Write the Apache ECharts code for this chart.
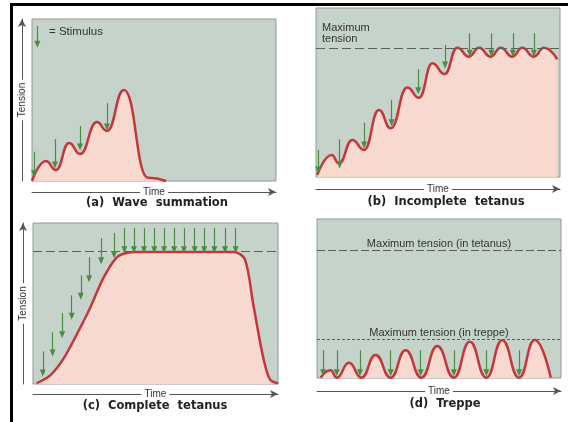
<!DOCTYPE html>
<html>
<head>
<meta charset="utf-8">
<script src="https://cdn.jsdelivr.net/npm/echarts@6/dist/echarts.min.js"></script>
<style>html,body{margin:0;padding:0;background:#fff;}#c{width:568px;height:422px;}</style>
</head>
<body>
<div id="c"></div>
<script>
// ---- Data (x = time 0..100, y = tension 0..100) ----
const waveCurve = [[0,0],[5.7,12.3],[9.8,6.8],[15.2,23.5],[19.7,16.7],[26.6,36.4],[30.7,30.9],[37.7,56.2],[47.5,2],[55,0]];
const waveStimX = [0.8, 9.4, 19.7, 30.7];
const waveStimTop = [18.1, 25.9, 34, 48.1];
const waveStimTip = [4.7, 9.9, 21, 33.3];
const legendStim = [2.2, 95.7, 84.4]; // x, top, tip

const incompleteCurve = [[0.5,1.2],[6.4,13],[9.4,8.1],[14.9,21.9],[19.7,16],[25.8,39.6],[30.6,28.8],[37.4,53],[42.2,46.9],[47.7,67.3],[52.7,60.9],[57.9,76.5],[62.7,71.2],[66.8,76.5],[71.6,71.2],[75.7,76.5],[80.5,71.2],[84.5,76.5],[89.3,71.2],[93.4,76.5],[98.9,69.6]];
const incompleteStimX = [0.9, 9.7, 19.7, 31, 41.9, 52.9, 63, 71.9, 80.7, 89.3];
const incompleteStimTop = [16, 22.3, 32.1, 45.6, 63.7, 78.1, 85, 85, 85, 85];
const incompleteStimTip = [4.1, 7.1, 18.9, 32.1, 51.1, 66.3, 73.2, 73.2, 73.2, 73.2];
const incompleteMax = 76.2;

const completeCurve = [[1.5,0.5],[6.9,5.2],[12.4,15.6],[17.8,30.6],[23.3,47.2],[28.7,65.8],[34.2,78.7],[38.2,81.4],[42,82],[82,82],[86.5,77.4],[89.9,49.5],[94,16.3],[96.7,2.9],[100,0.4]];
const completeStimX = [4.0, 8.0, 11.9, 15.8, 19.5, 22.9, 27.8, 33.1, 37.3, 41.2, 45.3, 49.5, 53.5, 57.6, 61.6, 66.0, 69.9, 74.0, 78.4, 82.7];
const completeStimTop = [20.3, 32.1, 44.1, 55.1, 67.5, 78.7, 90.7, 93.8, 96.9, 96.9, 96.9, 96.9, 96.9, 96.9, 96.9, 96.9, 96.9, 96.9, 96.9, 96.9];
const completeStimTip = [6.8, 19.3, 30.6, 42.1, 54.5, 65.4, 76.6, 80.3, 83.4, 83.4, 83.4, 83.4, 83.4, 83.4, 83.4, 83.4, 83.4, 83.4, 83.4, 83.4];
const completeMax = 82.2;

const treppeCurve = [[1.5,0.2],[5.6,4.8],[8.1,0.2],[13.1,9.6],[18.2,0.2],[24,14.5],[30.2,0.2],[36.3,17.4],[42.8,0.2],[49.3,20.1],[56.1,0.2],[62.6,22.8],[69.4,0.2],[75.9,23.7],[82.8,0.2],[89.2,23.9],[95.8,0.2]];
const treppeStimX = [2.5, 8.1, 17.6, 30.2, 42.5, 56.1, 69.4, 82.8];
const treppeStimTop = [17.4, 17.4, 17.4, 17.4, 17.4, 17.4, 17.4, 17.4];
const treppeStimTip = [3.3, 3.3, 3.3, 3.3, 3.3, 3.3, 3.3, 3.3];
const treppeTetanusMax = 80.3;
const treppeMax = 24.3;

const panelTitles = ['(a)  Wave  summation', '(b)  Incomplete  tetanus', '(c)  Complete  tetanus', '(d)  Treppe'];
const axisTimeName = 'Time';
const axisTensionName = 'Tension';

// ---- Styles ----
const FONT = '"Liberation Sans", Arial, sans-serif';
const TFONT = '"DejaVu Sans", "Liberation Sans", sans-serif';
const BG = '#c6d3cb';
const FILL = '#f8d9cf';
const RED = '#c5363b';
const GREEN = '#4c8c42';
const AX = '#555';

const grids = [
  {left: 32, top: 19, width: 244, height: 162},
  {left: 316, top: 8, width: 244, height: 169},
  {left: 33, top: 223, width: 245, height: 161},
  {left: 317, top: 219, width: 244, height: 159}
].map(g => Object.assign(g, {show: true, backgroundColor: BG, borderColor: '#8f9a94', borderWidth: 1}));

const timeOffsets = [11, 12, 10, 13];
const yOffset = 10;
const xAxes = grids.map((g, i) => ({
  type: 'value', gridIndex: i, min: 0, max: 100, offset: timeOffsets[i],
  axisLine: {show: true, onZero: false, symbol: ['none', 'arrow'], symbolSize: [6, 8], lineStyle: {color: AX, width: 1}},
  axisTick: {show: false}, axisLabel: {show: false}, splitLine: {show: false}
}));
const showTension = [true, false, true, false];
const yAxes = grids.map((g, i) => ({
  type: 'value', gridIndex: i, min: 0, max: 100, offset: yOffset, show: showTension[i],
  axisLine: {show: true, onZero: false, symbol: ['none', 'arrow'], symbolSize: [6, 8], lineStyle: {color: AX, width: 1}},
  axisTick: {show: false}, axisLabel: {show: false}, splitLine: {show: false}
}));

function arrows(xs, tops, tips) {
  return xs.map((x, k) => [{coord: [x, tops[k]]}, {coord: [x, tips[k]]}]);
}
function curveSeries(i, data, mono, smooth, marks) {
  const s = {
    type: 'line', xAxisIndex: i, yAxisIndex: i, data: data, smooth: smooth,
    showSymbol: false, z: 2,
    lineStyle: {color: RED, width: 2.5},
    areaStyle: {color: FILL, opacity: 1},
    silent: true
  };
  if (mono) s.smoothMonotone = 'x';
  if (marks) s.markLine = marks;
  return s;
}
function arrowSeries(i, data) {
  return {
    type: 'scatter', xAxisIndex: i, yAxisIndex: i, data: [], silent: true, z: 5,
    markLine: {
      silent: true, symbol: ['none', 'triangle'], symbolSize: [6, 7],
      lineStyle: {color: GREEN, width: 1.2, type: 'solid'},
      label: {show: false}, emphasis: {disabled: true},
      data: data
    }
  };
}
function dashLine(value, text, pos, dash, extraLabel) {
  return {
    yAxis: value,
    lineStyle: {color: '#5a5f5c', width: 1, type: dash},
    label: Object.assign({show: !!text, formatter: text || '', position: pos, fontFamily: FONT, fontSize: 11, color: '#333', distance: [6, 3]}, extraLabel || {})
  };
}

const series = [
  curveSeries(0, waveCurve, true, 0.5),
  arrowSeries(0, arrows(waveStimX, waveStimTop, waveStimTip).concat([[{coord: [legendStim[0], legendStim[1]]}, {coord: [legendStim[0], legendStim[2]]}]])),
  curveSeries(1, incompleteCurve, true, 0.5, {
    silent: true, symbol: ['none', 'none'], z: 3,
    data: [dashLine(incompleteMax, 'Maximum\ntension', 'insideStartTop', [9, 4], {lineHeight: 11, distance: [6, 4]})]
  }),
  arrowSeries(1, arrows(incompleteStimX, incompleteStimTop, incompleteStimTip)),
  curveSeries(2, completeCurve, false, 0.3, {
    silent: true, symbol: ['none', 'none'], z: 1,
    data: [dashLine(completeMax, '', 'insideStartTop', [9, 4])]
  }),
  arrowSeries(2, arrows(completeStimX, completeStimTop, completeStimTip)),
  curveSeries(3, treppeCurve, true, 0.5, {
    silent: true, symbol: ['none', 'none'],
    data: [
      dashLine(treppeTetanusMax, 'Maximum tension (in tetanus)', 'insideMiddleTop', [8, 3], {distance: [0, 1]}),
      dashLine(treppeMax, 'Maximum tension (in treppe)', 'insideMiddleTop', [3, 2], {distance: [0, 1]})
    ]
  }),
  arrowSeries(3, arrows(treppeStimX, treppeStimTop, treppeStimTip))
];

const titlePos = [[157, 203], [446, 202], [155, 406], [445, 404]];
const axisTextStyle = {fontFamily: FONT, fontSize: 10, fill: '#333', backgroundColor: '#fff', padding: [1, 3], align: 'center', verticalAlign: 'middle'};
let graphic = [
  {type: 'rect', shape: {x: 10, y: 3, width: 3, height: 419}, style: {fill: '#000'}, silent: true},
  {type: 'rect', shape: {x: 10, y: 3, width: 558, height: 3}, style: {fill: '#000'}, silent: true},
  {type: 'text', x: 49, y: 32, silent: true, style: {text: '= Stimulus', fontFamily: FONT, fontSize: 11.5, fill: '#333', align: 'left', verticalAlign: 'middle'}}
];
graphic = graphic.concat(panelTitles.map((t, i) => ({
  type: 'text', x: titlePos[i][0], y: titlePos[i][1], silent: true,
  style: {text: t, fontFamily: TFONT, fontSize: 11.5, fontWeight: 'bold', fill: '#222', align: 'center', verticalAlign: 'middle'}
})));
graphic = graphic.concat(grids.map((g, i) => ({
  type: 'text', z: 100, silent: true,
  x: g.left + g.width / 2, y: g.top + g.height + timeOffsets[i],
  style: Object.assign({text: axisTimeName}, axisTextStyle)
})));
grids.forEach((g, i) => {
  if (!showTension[i]) return;
  graphic.push({
    type: 'text', z: 100, silent: true, rotation: Math.PI / 2,
    x: g.left - yOffset, y: g.top + g.height / 2,
    style: Object.assign({text: axisTensionName}, axisTextStyle)
  });
});

const chart = echarts.init(document.getElementById('c'));
chart.setOption({
  animation: false,
  backgroundColor: '#fff',
  grid: grids,
  xAxis: xAxes,
  yAxis: yAxes,
  series: series,
  graphic: graphic
});
</script>
</body>
</html>
